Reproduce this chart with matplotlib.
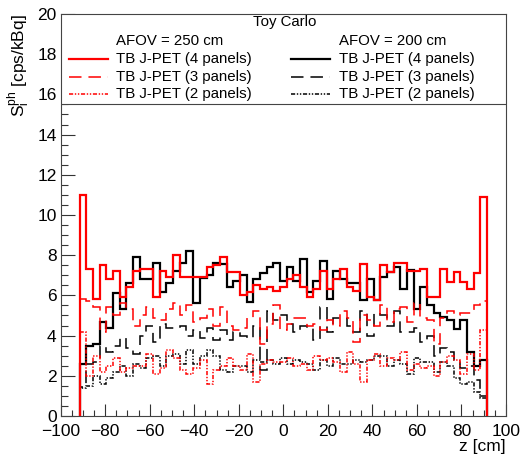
import numpy as np
import matplotlib
matplotlib.use('Agg')
import matplotlib.pyplot as plt
from matplotlib.ticker import MultipleLocator
from matplotlib.patches import Rectangle

plt.rcParams['font.family'] = ['Liberation Sans', 'DejaVu Sans']
plt.rcParams['mathtext.fontset'] = 'custom'
plt.rcParams['mathtext.rm'] = 'Liberation Sans'
plt.rcParams['mathtext.it'] = 'Liberation Sans:italic'
plt.rcParams['lines.scale_dashes'] = False

# bin edges: 61 bins of 3 cm
edges = np.linspace(-91.5, 91.5, 62)

# AFOV = 250 cm (red)
r4 = [11.0, 7.3, 5.8, 7.5, 6.8, 7.2, 5.9, 6.4, 7.2, 7.3, 7.3, 5.9, 7.2, 6.9, 8.0, 6.9,
      6.9, 6.9, 6.9, 7.4, 7.5, 7.9, 7.15, 7.15, 6.0, 6.15, 6.5, 6.3, 6.4, 6.2, 6.4, 6.8,
      7.0, 6.4, 5.9, 6.3, 7.2, 6.3, 6.8, 7.3, 6.4, 6.2, 7.55, 5.9, 5.75, 7.5, 7.15, 7.6,
      7.6, 7.2, 7.2, 7.3, 5.9, 5.9, 7.3, 6.65, 7.15, 6.65, 6.3, 7.1, 10.9]
r3 = [5.8, 5.7, 5.4, 4.2, 5.4, 5.0, 5.6, 5.3, 4.5, 5.0, 5.4, 4.9, 4.8, 5.3, 5.6, 5.0,
      5.5, 4.7, 4.9, 5.3, 4.5, 5.4, 4.5, 4.3, 4.4, 4.9, 5.2, 3.6, 4.6, 5.5, 4.3, 4.6,
      4.9, 4.9, 4.5, 4.6, 4.3, 4.8, 4.5, 5.2, 4.9, 3.7, 5.0, 4.8, 4.5, 5.5, 4.7, 5.3,
      5.4, 4.7, 5.6, 4.9, 4.8, 3.6, 4.9, 5.2, 5.0, 5.1, 5.1, 5.5, 5.7]
r2 = [4.2, 2.0, 3.0, 2.2, 2.5, 2.9, 2.2, 2.4, 2.5, 2.5, 3.1, 2.1, 2.4, 3.3, 2.9, 2.3,
      2.1, 2.4, 2.8, 1.6, 2.3, 2.5, 2.9, 2.5, 2.3, 3.1, 1.7, 2.6, 2.8, 2.7, 2.7, 2.9,
      2.5, 2.6, 2.3, 3.0, 2.8, 2.9, 2.7, 2.2, 3.2, 2.6, 1.7, 2.8, 3.1, 2.5, 2.9, 2.8,
      3.2, 2.3, 2.6, 2.4, 2.5, 2.0, 2.7, 3.0, 2.8, 2.1, 3.1, 2.3, 4.3]

# AFOV = 200 cm (black)
b4 = [2.6, 3.5, 3.6, 4.7, 4.4, 6.1, 5.3, 6.6, 7.9, 6.8, 6.8, 7.6, 6.15, 6.6, 7.2, 7.6,
      8.2, 5.6, 6.85, 7.0, 7.6, 7.55, 6.4, 6.7, 7.0, 5.65, 6.8, 7.1, 7.4, 7.6, 6.7, 7.4,
      6.7, 7.8, 6.15, 6.7, 7.7, 5.8, 7.2, 6.8, 6.6, 6.6, 5.75, 6.8, 5.75, 6.9, 7.15, 7.4,
      6.3, 7.25, 5.3, 6.4, 5.5, 5.1, 4.95, 4.8, 4.35, 4.8, 3.2, 2.5, 2.8]
b3 = [1.45, 2.6, 2.7, 3.5, 3.2, 3.5, 3.9, 3.4, 3.1, 4.0, 4.5, 3.7, 4.6, 4.4, 4.4, 4.5,
      4.0, 4.3, 3.9, 4.4, 3.8, 4.3, 3.8, 4.2, 4.0, 3.9, 4.5, 2.3, 5.2, 4.8, 5.0, 4.6,
      4.2, 4.5, 4.4, 3.8, 5.4, 4.2, 4.9, 4.9, 4.5, 4.2, 5.2, 4.0, 5.1, 5.0, 4.5, 5.2,
      4.2, 4.2, 4.4, 3.7, 4.0, 3.0, 3.4, 3.2, 2.8, 2.4, 2.5, 1.8, 1.0]
b2 = [1.4, 1.5, 2.0, 1.6, 1.9, 2.2, 2.5, 2.0, 2.6, 2.4, 2.9, 3.0, 2.5, 3.0, 3.1, 2.6,
      3.3, 2.6, 3.0, 3.3, 3.0, 2.3, 2.2, 2.5, 2.5, 2.2, 2.8, 2.7, 2.8, 2.6, 2.9, 2.6,
      2.8, 2.7, 2.6, 2.3, 2.8, 2.5, 2.9, 2.6, 2.6, 2.8, 2.7, 2.8, 3.0, 3.0, 2.5, 2.8,
      2.6, 2.1, 2.9, 2.7, 2.7, 2.2, 2.7, 2.5, 1.9, 1.6, 1.7, 1.2, 0.9]

labels = ['TB J-PET (4 panels)', 'TB J-PET (3 panels)', 'TB J-PET (2 panels)']
styles = ['-', (0, (9, 5)), (0, (3, 1.2, 1, 1.2, 1, 1.2))]
widths = [1.6, 1.1, 1.1]

fig = plt.figure(figsize=(5.23, 4.54), dpi=100)
ax = fig.add_axes([0.116, 0.0837, 0.8515, 0.8855])

red_sets = [r4, r3, r2]
black_sets = [b4, b3, b2]
for vals, ls, lw in zip(black_sets, styles, widths):
    ax.stairs(vals, edges, color='black', linestyle=ls, linewidth=lw, baseline=0)
for vals, ls, lw in zip(red_sets, styles, widths):
    ax.stairs(vals, edges, color='#ff0000', linestyle=ls, linewidth=lw, baseline=0)

ax.set_xlim(-100, 100)
ax.set_ylim(0, 20)
ax.xaxis.set_major_locator(MultipleLocator(20))
ax.xaxis.set_minor_locator(MultipleLocator(5))
ax.yaxis.set_major_locator(MultipleLocator(2))
ax.yaxis.set_minor_locator(MultipleLocator(0.5))
ax.tick_params(axis='both', which='both', direction='in', colors='#333333',
               labelcolor='black', labelsize=12.5, width=0.8)
ax.tick_params(axis='x', which='major', length=8.5, pad=6)
ax.tick_params(axis='x', which='minor', length=4.3)
ax.tick_params(axis='y', which='major', length=10, pad=3)
ax.tick_params(axis='y', which='minor', length=5)
for sp in ax.spines.values():
    sp.set_linewidth(0.8)
    sp.set_color('#444444')

ax.set_xlabel('z [cm]', fontsize=12.5, loc='right', labelpad=0)
ax.set_ylabel(r'$\mathrm{S_{i}^{ph}}$ [cps/kBq]', fontsize=12.5, loc='top', labelpad=4)

# legend box
y_box = 0.775
ax.add_patch(Rectangle((0, y_box), 1, 1 - y_box, transform=ax.transAxes,
                       facecolor='white', edgecolor='#444444', linewidth=0.8, zorder=5))
fs = 10.8
ax.text(0.504, 0.979, 'Toy Carlo', transform=ax.transAxes, ha='center', va='center',
        fontsize=fs, zorder=6)
ax.text(0.124, 0.934, 'AFOV = 250 cm', transform=ax.transAxes, ha='left', va='center',
        fontsize=fs, zorder=6)
ax.text(0.625, 0.934, 'AFOV = 200 cm', transform=ax.transAxes, ha='left', va='center',
        fontsize=fs, zorder=6)
rows = [0.889, 0.844, 0.800]
for yy, lab, ls, lw in zip(rows, labels, styles, widths):
    ax.plot([0.019, 0.106], [yy, yy], transform=ax.transAxes, color='#ff0000',
            linestyle=ls, linewidth=lw, zorder=6)
    ax.text(0.124, yy, lab, transform=ax.transAxes, ha='left', va='center',
            fontsize=fs, zorder=6)
    ax.plot([0.517, 0.605], [yy, yy], transform=ax.transAxes, color='black',
            linestyle=ls, linewidth=lw, zorder=6)
    ax.text(0.625, yy, lab, transform=ax.transAxes, ha='left', va='center',
            fontsize=fs, zorder=6)

fig.savefig('out.png', dpi=100)
